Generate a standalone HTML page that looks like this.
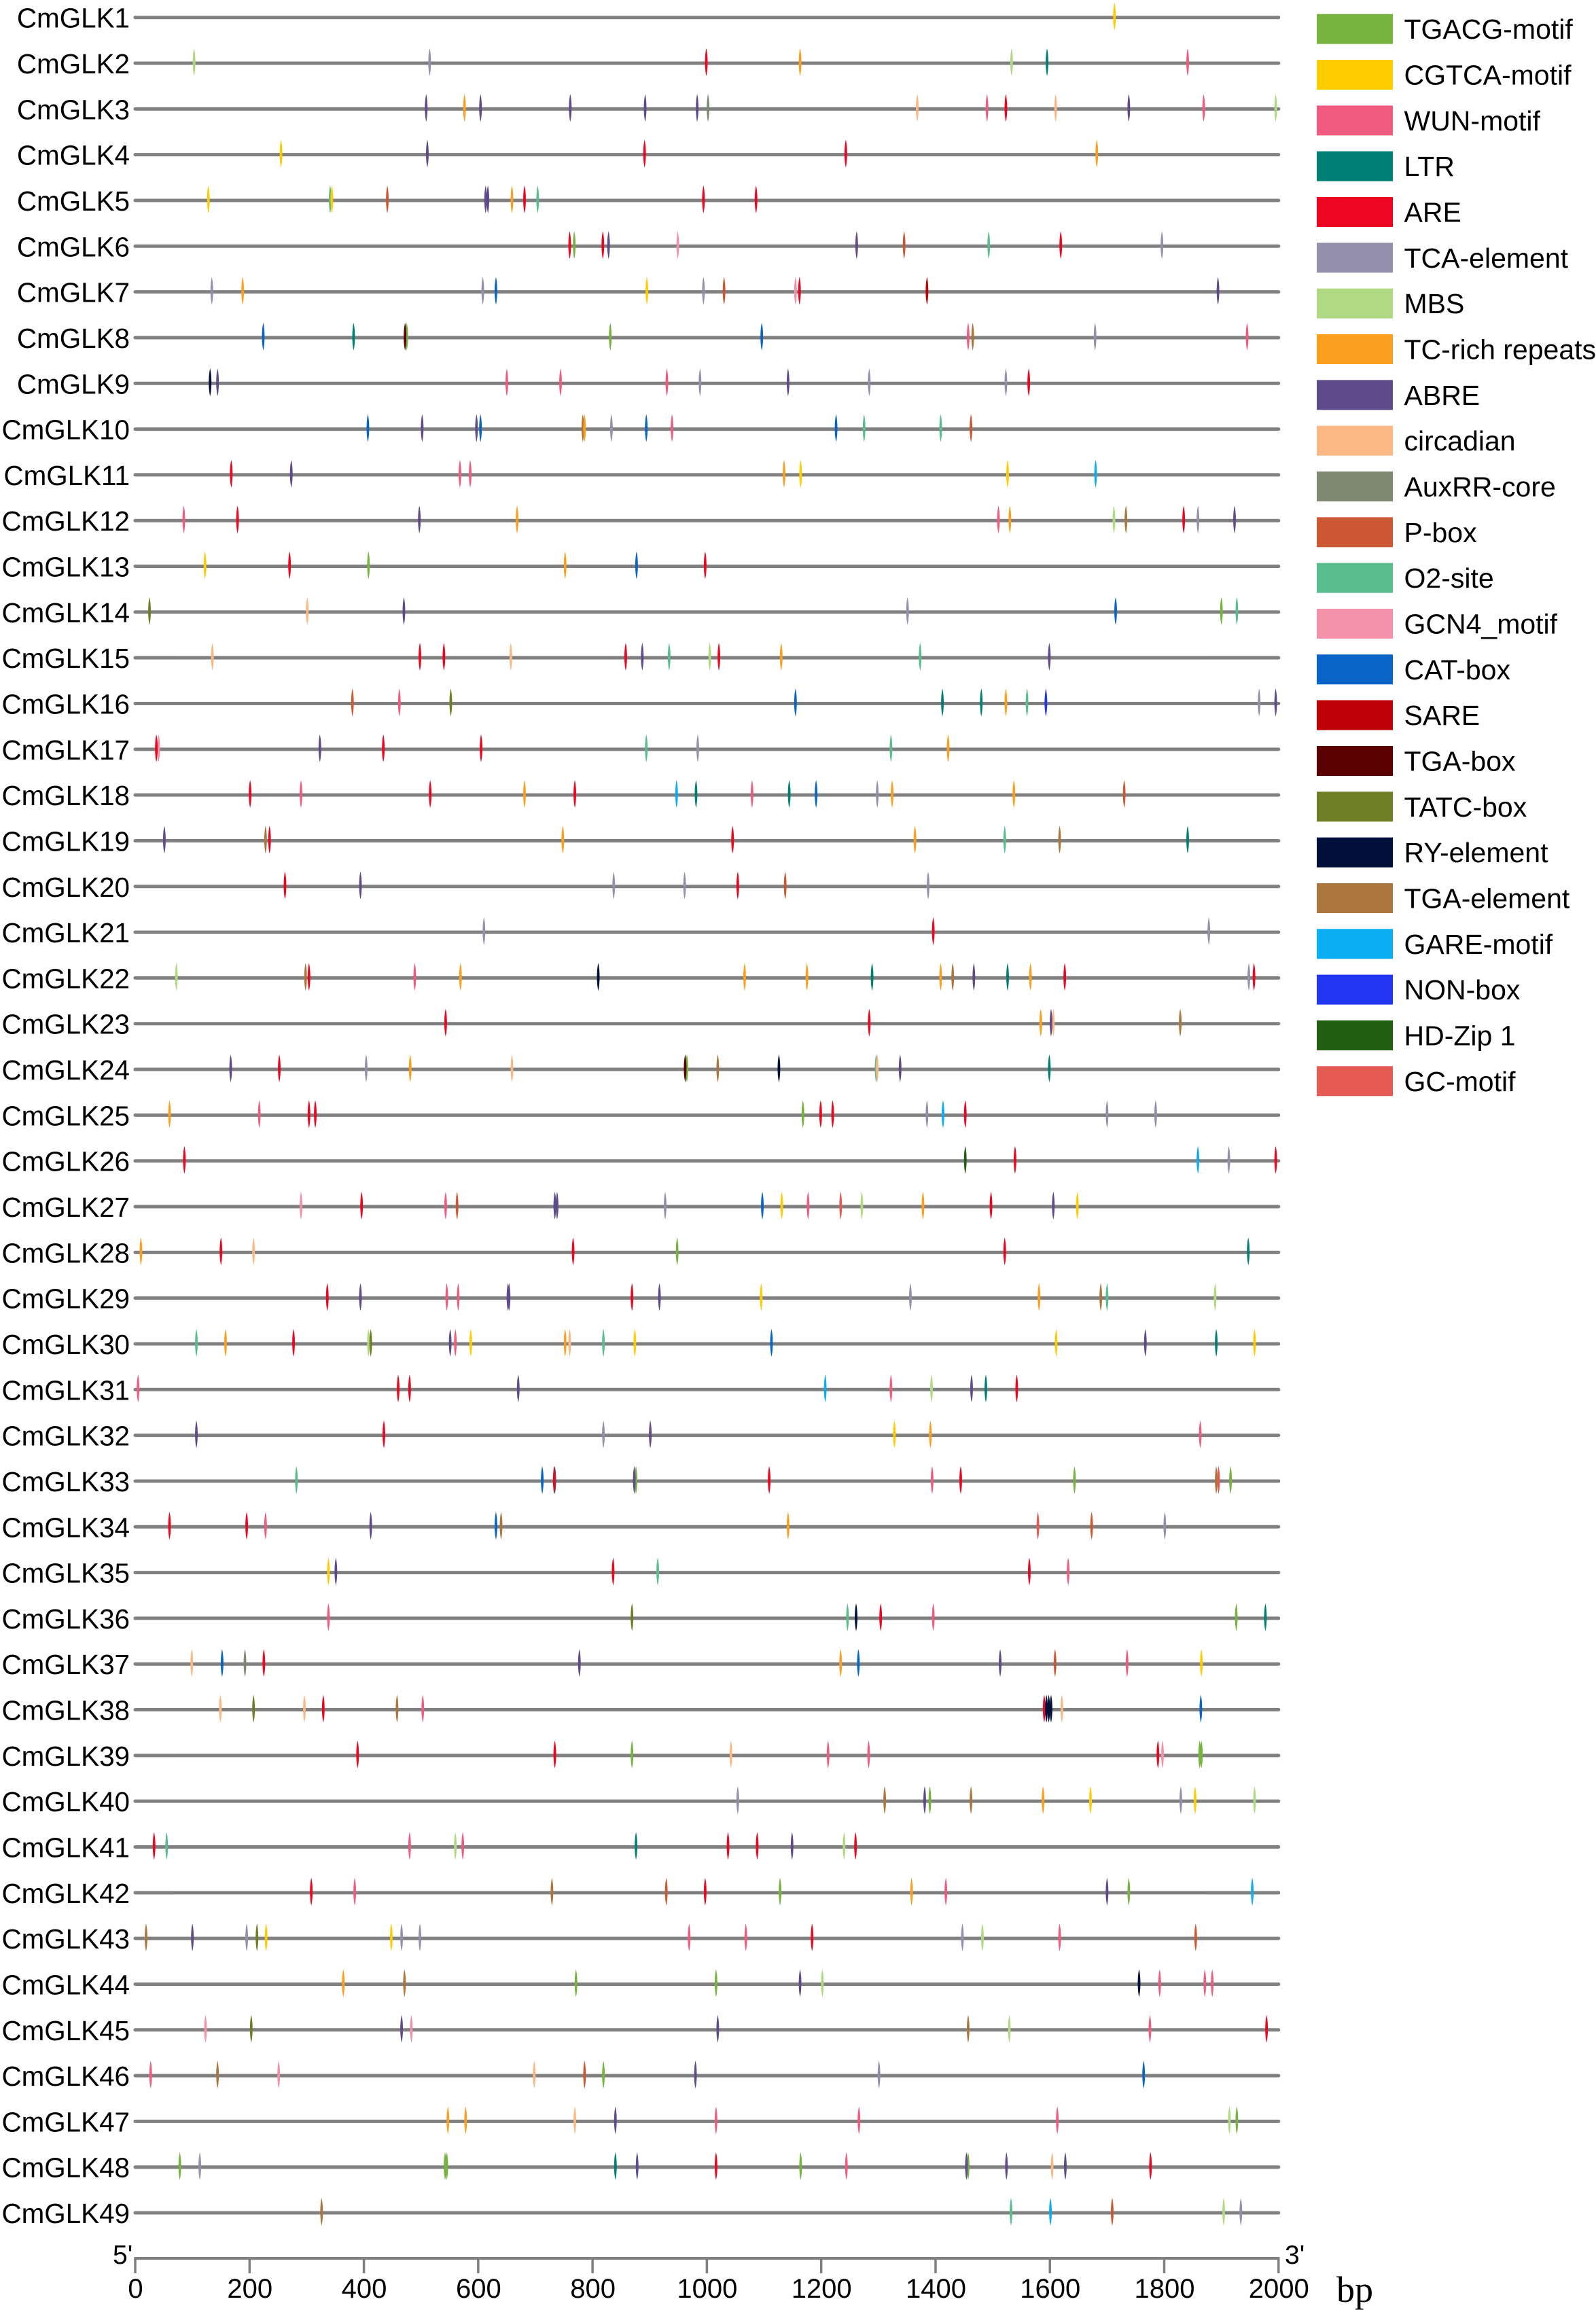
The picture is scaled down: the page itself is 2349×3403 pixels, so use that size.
<!DOCTYPE html>
<html lang="en">
<head>
<meta charset="utf-8">
<title>CmGLK promoter cis-element map</title>
<style>
html,body{margin:0;padding:0;background:#fff;}
svg{display:block;}
text{font-family:"Liberation Sans",sans-serif;fill:#000;}
</style>
</head>
<body>
<svg id="chart" xmlns="http://www.w3.org/2000/svg" width="2349" height="3403" viewBox="0 0 2349 3403"></svg>
<script>
const geneNames = ["CmGLK1","CmGLK2","CmGLK3","CmGLK4","CmGLK5","CmGLK6","CmGLK7","CmGLK8","CmGLK9","CmGLK10","CmGLK11","CmGLK12","CmGLK13","CmGLK14","CmGLK15","CmGLK16","CmGLK17","CmGLK18","CmGLK19","CmGLK20","CmGLK21","CmGLK22","CmGLK23","CmGLK24","CmGLK25","CmGLK26","CmGLK27","CmGLK28","CmGLK29","CmGLK30","CmGLK31","CmGLK32","CmGLK33","CmGLK34","CmGLK35","CmGLK36","CmGLK37","CmGLK38","CmGLK39","CmGLK40","CmGLK41","CmGLK42","CmGLK43","CmGLK44","CmGLK45","CmGLK46","CmGLK47","CmGLK48","CmGLK49"];
const motifNames = ["TGACG-motif","CGTCA-motif","WUN-motif","LTR","ARE","TCA-element","MBS","TC-rich repeats","ABRE","circadian","AuxRR-core","P-box","O2-site","GCN4_motif","CAT-box","SARE","TGA-box","TATC-box","RY-element","TGA-element","GARE-motif","NON-box","HD-Zip 1","GC-motif"];
const motifColors = ["#76B33F","#FFCC00","#F15B80","#007F74","#EE051F","#9490AC","#B0D983","#FBA01E","#5F4A8B","#FBB884","#7F8971","#CC5733","#59BD8E","#F391A9","#0865C7","#C00007","#5A0000","#6D7F24","#00103A","#AB773F","#0BAEF0","#2136F0","#215E11","#E55A52"];
const axisTicks = [0,200,400,600,800,1000,1200,1400,1600,1800,2000];
// Each site: [position in bp, motif letter] where A = first legend entry, B = second, ...
const geneSites = [
[[1713,'B']],
[[103,'G'],[515,'F'],[999,'E'],[1163,'H'],[1533,'G'],[1595,'D'],[1841,'C']],
[[509,'I'],[576,'H'],[604,'I'],[761,'I'],[892,'I'],[983,'I'],[1002,'K'],[1368,'J'],[1490,'C'],[1523,'E'],[1610,'J'],[1738,'I'],[1869,'C'],[1995,'G']],
[[255,'B'],[511,'I'],[891,'E'],[1243,'E'],[1682,'H']],
[[128,'B'],[341,'M'],[344,'B'],[441,'L'],[613,'I'],[617,'I'],[659,'H'],[681,'E'],[704,'M'],[994,'E'],[1086,'E']],
[[760,'E'],[768,'A'],[818,'E'],[828,'I'],[949,'N'],[1262,'I'],[1345,'L'],[1493,'M'],[1619,'E'],[1796,'F']],
[[134,'F'],[188,'H'],[608,'F'],[631,'O'],[895,'B'],[994,'F'],[1030,'L'],[1155,'N'],[1162,'E'],[1385,'P'],[1894,'I']],
[[224,'O'],[382,'D'],[475,'A'],[472,'Q'],[831,'A'],[1096,'O'],[1465,'T'],[1457,'C'],[1679,'F'],[1945,'C']],
[[131,'S'],[144,'I'],[650,'C'],[744,'C'],[930,'C'],[988,'F'],[1142,'I'],[1284,'F'],[1523,'F'],[1563,'E']],
[[407,'O'],[502,'I'],[597,'I'],[604,'O'],[783,'T'],[786,'H'],[833,'F'],[894,'O'],[939,'C'],[1226,'O'],[1275,'M'],[1409,'M'],[1462,'L']],
[[168,'E'],[273,'I'],[568,'C'],[586,'C'],[1135,'H'],[1164,'B'],[1526,'B'],[1680,'U']],
[[85,'C'],[179,'E'],[497,'I'],[668,'H'],[1510,'C'],[1530,'H'],[1712,'G'],[1733,'T'],[1834,'E'],[1859,'F'],[1923,'I']],
[[122,'B'],[270,'E'],[408,'A'],[752,'H'],[877,'O'],[997,'E']],
[[25,'R'],[301,'J'],[470,'I'],[1351,'F'],[1715,'O'],[1900,'A'],[1927,'M']],
[[135,'J'],[498,'E'],[540,'E'],[657,'J'],[858,'E'],[887,'I'],[934,'M'],[1005,'G'],[1021,'E'],[1130,'H'],[1373,'M'],[1599,'I']],
[[380,'L'],[462,'C'],[552,'R'],[1155,'O'],[1412,'D'],[1480,'D'],[1523,'H'],[1560,'M'],[1593,'V'],[1966,'F'],[1995,'I']],
[[41,'N'],[37,'E'],[323,'I'],[434,'E'],[605,'E'],[894,'M'],[984,'F'],[1322,'M'],[1422,'H']],
[[201,'E'],[290,'C'],[516,'E'],[681,'H'],[769,'E'],[947,'U'],[981,'D'],[1079,'C'],[1144,'D'],[1191,'O'],[1298,'F'],[1324,'H'],[1537,'H'],[1730,'L']],
[[51,'I'],[228,'T'],[235,'E'],[748,'H'],[1045,'E'],[1364,'H'],[1521,'M'],[1617,'T'],[1841,'D']],
[[262,'E'],[394,'I'],[837,'F'],[961,'F'],[1054,'E'],[1137,'L'],[1387,'F']],
[[610,'F'],[1396,'E'],[1878,'F']],
[[72,'G'],[298,'T'],[304,'E'],[489,'C'],[569,'H'],[810,'S'],[1066,'H'],[1175,'H'],[1289,'D'],[1409,'H'],[1430,'T'],[1467,'I'],[1526,'D'],[1566,'H'],[1626,'E'],[1948,'F'],[1957,'E']],
[[543,'E'],[1284,'E'],[1584,'H'],[1606,'J'],[1602,'I'],[1828,'T']],
[[167,'I'],[252,'E'],[404,'F'],[481,'H'],[659,'J'],[965,'A'],[962,'Q'],[1019,'T'],[1126,'S'],[1296,'M'],[1298,'J'],[1338,'I'],[1599,'D']],
[[60,'H'],[217,'C'],[304,'E'],[315,'E'],[1168,'A'],[1199,'E'],[1220,'E'],[1385,'F'],[1413,'U'],[1452,'E'],[1700,'F'],[1785,'F']],
[[86,'E'],[1452,'W'],[1539,'E'],[1859,'U'],[1913,'F'],[1995,'E']],
[[290,'N'],[396,'E'],[543,'C'],[563,'L'],[734,'I'],[738,'I'],[927,'F'],[1097,'O'],[1131,'B'],[1177,'C'],[1234,'X'],[1271,'G'],[1378,'H'],[1497,'E'],[1606,'I'],[1648,'B']],
[[10,'H'],[150,'E'],[207,'J'],[766,'E'],[948,'A'],[1521,'E'],[1947,'D']],
[[336,'E'],[394,'I'],[545,'C'],[565,'C'],[652,'I'],[654,'I'],[869,'E'],[917,'I'],[1095,'B'],[1356,'F'],[1581,'H'],[1689,'T'],[1700,'M'],[1889,'G']],
[[107,'M'],[158,'H'],[277,'E'],[408,'G'],[412,'R'],[551,'I'],[560,'C'],[587,'B'],[752,'H'],[760,'J'],[819,'M'],[874,'B'],[1113,'O'],[1611,'B'],[1767,'I'],[1891,'D'],[1958,'B']],
[[5,'C'],[460,'E'],[480,'E'],[670,'I'],[1207,'U'],[1322,'C'],[1393,'G'],[1463,'I'],[1488,'D'],[1542,'E']],
[[107,'I'],[435,'E'],[819,'F'],[901,'I'],[1328,'B'],[1391,'H'],[1863,'C']],
[[282,'M'],[712,'O'],[734,'D'],[733,'E'],[876,'A'],[873,'I'],[1109,'E'],[1394,'C'],[1444,'E'],[1643,'A'],[1891,'T'],[1895,'X'],[1916,'A']],
[[60,'E'],[195,'E'],[228,'C'],[412,'I'],[631,'O'],[640,'T'],[1142,'H'],[1579,'X'],[1673,'L'],[1801,'F']],
[[338,'B'],[351,'I'],[836,'E'],[914,'M'],[1564,'E'],[1632,'C']],
[[338,'C'],[869,'R'],[1246,'M'],[1261,'S'],[1304,'E'],[1396,'C'],[1926,'A'],[1977,'D']],
[[99,'J'],[152,'O'],[192,'K'],[225,'E'],[777,'I'],[1234,'H'],[1265,'O'],[1513,'I'],[1609,'L'],[1735,'C'],[1865,'B']],
[[149,'J'],[207,'R'],[296,'J'],[329,'E'],[458,'T'],[503,'C'],[1590,'E'],[1594,'S'],[1598,'S'],[1602,'S'],[1621,'J'],[1864,'O']],
[[389,'E'],[734,'E'],[869,'A'],[1042,'J'],[1212,'C'],[1283,'C'],[1789,'E'],[1797,'N'],[1862,'A'],[1865,'A']],
[[1054,'F'],[1311,'T'],[1381,'I'],[1390,'A'],[1462,'T'],[1588,'H'],[1671,'B'],[1829,'F'],[1854,'B'],[1958,'G']],
[[33,'E'],[55,'M'],[480,'C'],[560,'G'],[573,'C'],[876,'D'],[1037,'E'],[1088,'E'],[1149,'I'],[1240,'G'],[1260,'E']],
[[308,'E'],[384,'C'],[729,'T'],[929,'L'],[997,'E'],[1128,'A'],[1358,'H'],[1418,'C'],[1700,'I'],[1738,'A'],[1954,'U']],
[[19,'T'],[100,'I'],[195,'F'],[213,'R'],[229,'B'],[448,'B'],[466,'F'],[498,'F'],[969,'C'],[1068,'C'],[1184,'E'],[1447,'F'],[1482,'G'],[1617,'C'],[1855,'L']],
[[364,'H'],[471,'T'],[771,'A'],[1016,'A'],[1163,'I'],[1202,'G'],[1756,'S'],[1792,'C'],[1871,'C'],[1884,'C']],
[[123,'N'],[203,'R'],[466,'I'],[483,'N'],[1019,'I'],[1457,'T'],[1529,'G'],[1775,'C'],[1979,'E']],
[[27,'C'],[144,'T'],[251,'N'],[698,'J'],[786,'L'],[819,'A'],[980,'I'],[1301,'F'],[1764,'O']],
[[547,'H'],[578,'H'],[769,'J'],[840,'I'],[1016,'C'],[1266,'C'],[1613,'C'],[1914,'G'],[1927,'A']],
[[78,'A'],[113,'F'],[542,'A'],[545,'A'],[840,'D'],[878,'I'],[1016,'E'],[1164,'A'],[1244,'C'],[1457,'A'],[1454,'I'],[1524,'I'],[1604,'J'],[1627,'I'],[1776,'E']],
[[326,'T'],[1532,'M'],[1601,'U'],[1709,'L'],[1904,'G'],[1934,'F']]
];

const SVGNS = "http://www.w3.org/2000/svg";
const svg = document.getElementById("chart");
const BP_MIN = 0, BP_MAX = 2000, X0 = 199, X1 = 1881.8;
const ROW0 = 25.7, ROW_STEP = 67.32;
function xScale(bp){ return X0 + (bp - BP_MIN) / (BP_MAX - BP_MIN) * (X1 - X0); }
function rowY(i){ return ROW0 + ROW_STEP * i; }
function make(tag, attrs, text){
  const el = document.createElementNS(SVGNS, tag);
  for (const k in attrs) el.setAttribute(k, attrs[k]);
  if (text !== undefined) el.textContent = text;
  svg.appendChild(el);
  return el;
}

geneNames.forEach(function(name, i){
  const y = rowY(i);
  const label = make("text", {x: 191, y: y + 15, "font-size": 40.4, "text-anchor": "end"}, name);
  
  
  const track = make("line", {x1: X0, x2: X1, y1: y, y2: y, stroke: "#808080", "stroke-width": 5, "stroke-linecap": "round"});
  
  
  geneSites[i].forEach(function(site){
    const x = xScale(site[0]);
    const idx = site[1].charCodeAt(0) - 65;
    const cy = y - 1.5;
    const top = cy - 20.5, bot = cy + 20.5;
    const d = "M" + x + " " + top +
      "C" + (x + 2.6) + " " + (cy - 10) + " " + (x + 2.6) + " " + (cy + 10) + " " + x + " " + bot +
      "C" + (x - 2.6) + " " + (cy + 10) + " " + (x - 2.6) + " " + (cy - 10) + " " + x + " " + top + "Z";
    const mark = make("path", {d: d, fill: motifColors[idx]});
    
    
  });
});

const axisY = 3324;
const axisLine = make("line", {x1: X0 - 1.7, x2: X1 + 1.7, y1: axisY, y2: axisY, stroke: "#808080", "stroke-width": 4});


axisTicks.forEach(function(t){
  const x = xScale(t);
  const tick = make("line", {x1: x, x2: x, y1: axisY, y2: 3346, stroke: "#808080", "stroke-width": 3.5});
  
  
  const lab = make("text", {x: x + 0.5, y: 3382, "font-size": 40, "text-anchor": "middle"}, String(t));
  
  
});

motifNames.forEach(function(name, i){
  const top = 20.7 + 67.33 * i;
  const sw = make("rect", {x: 1938, y: top, width: 112, height: 44, fill: motifColors[i]});
  
  
  const lab = make("text", {x: 2066.5, y: top + 36.5, "font-size": 41}, name);
  
  
});

const five = make("text", {x: 166, y: 3332, "font-size": 39}, "5'");


const three = make("text", {x: 1891, y: 3332, "font-size": 39}, "3'");


const unit = make("text", {x: 1967, y: 3388, "font-size": 54, style: 'font-family:"Liberation Serif",serif'}, "bp");


</script>
</body>
</html>
